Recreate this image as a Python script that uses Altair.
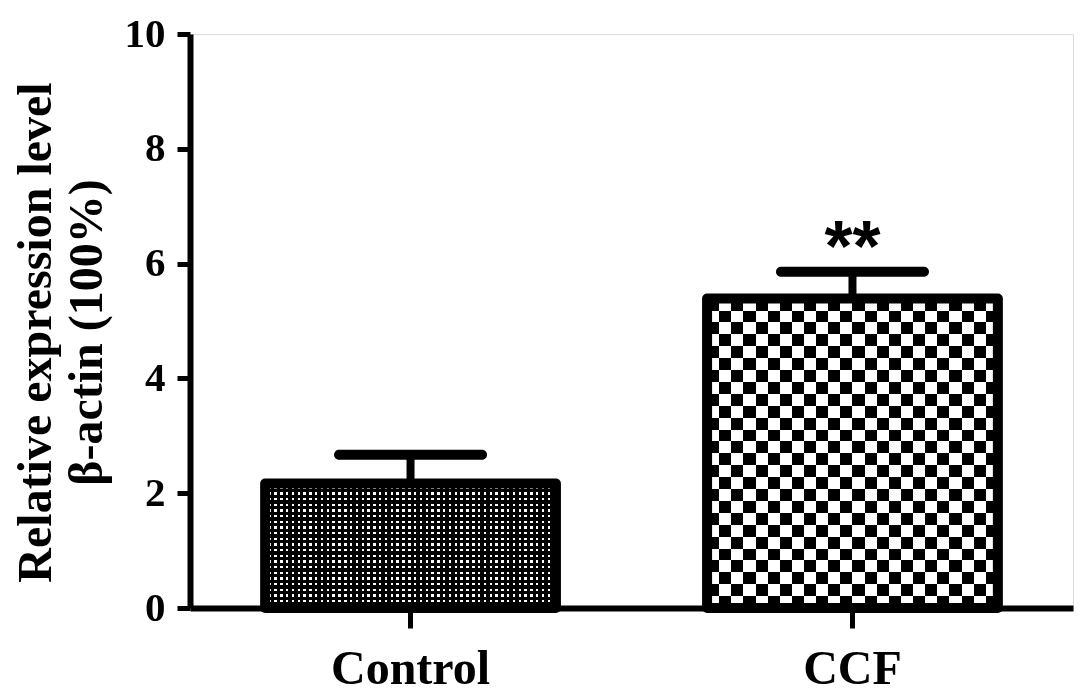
import altair as alt
import pandas as pd

# ---- data ----
groups = ["Control", "CCF"]
means = [2.17, 5.39]
sems = [0.50, 0.47]
stars = ["", "**"]
y_ticks = [0, 2, 4, 6, 8, 10]

df = pd.DataFrame({"group": groups, "mean": means, "sem": sems, "star": stars})

FONT = "Liberation Serif"


def stripes(periods, white_frac, vertical):
    """Hard-stop black/white stripe gradient (texture style only)."""
    stops = []
    for i in range(periods):
        a = round(i / periods, 5)
        m = round((i + 1 - white_frac) / periods, 5)
        b = round((i + 1) / periods, 5)
        stops += [
            {"offset": a, "color": "black"},
            {"offset": m, "color": "black"},
            {"offset": m, "color": "white"},
            {"offset": b, "color": "white"},
        ]
    g = {"gradient": "linear", "x1": 0, "y1": 0, "stops": stops}
    if vertical:
        g.update({"x2": 1, "y2": 0})
    else:
        g.update({"x2": 0, "y2": 1})
    return g


base = alt.Chart(df).encode(
    x=alt.X(
        "group:N",
        sort=groups,
        scale=alt.Scale(paddingInner=0.342, paddingOuter=0.17),
        axis=alt.Axis(
            title=None,
            labelAngle=0,
            labelFont=FONT,
            labelFontSize=48,
            labelFontWeight="bold",
            labelColor="black",
            labelPadding=17,
            tickSize=20,
            tickWidth=5,
            tickColor="black",
            domainWidth=6,
            domainColor="black",
        ),
    ),
    y=alt.Y(
        "mean:Q",
        scale=alt.Scale(domain=[0, 10], nice=False),
        axis=alt.Axis(
            values=y_ticks,
            format="d",
            title=["Relative expression level", "β-actin (100%)"],
            titleFont=FONT,
            titleFontSize=48,
            titleFontWeight="bold",
            titleColor="black",
            titleLineHeight=51,
            titleX=-130,
            titleY=298,
            labelFont=FONT,
            labelFontSize=41,
            labelFontWeight="bold",
            labelColor="black",
            labelPadding=12,
            tickSize=13,
            tickWidth=5,
            tickColor="black",
            domainWidth=6,
            domainColor="black",
            grid=False,
        ),
    ),
)

# Control: white dot lattice on black (multiply of two stripe layers)
ctrl = base.transform_filter(alt.datum.group == "Control")
ctrl_a = ctrl.mark_bar(fill=stripes(50, 0.42, True))
ctrl_b = ctrl.mark_bar(fill=stripes(22, 0.42, False), blend="multiply")

# CCF: checkerboard (difference of two stripe layers)
ccf = base.transform_filter(alt.datum.group == "CCF")
ccf_a = ccf.mark_bar(fill=stripes(12, 0.5, True))
ccf_b = ccf.mark_bar(fill=stripes(13, 0.5, False), blend="difference")

outline = base.mark_bar(fillOpacity=0, stroke="black", strokeWidth=10, strokeJoin="round")

err = base.transform_calculate(upper="datum.mean + datum.sem")
stem = err.mark_rule(color="black", strokeWidth=8).encode(y="mean:Q", y2="upper:Q")
cap = err.mark_tick(color="black", size=153, thickness=10, cornerRadius=5, opacity=1).encode(
    y="upper:Q"
)
star_text = err.mark_text(
    font="Liberation Sans",
    fontSize=72,
    fontWeight="bold",
    baseline="middle",
    dy=-23,
    color="black",
).encode(y="upper:Q", text="star:N")

chart = (
    alt.layer(ctrl_a, ctrl_b, ccf_a, ccf_b, outline, stem, cap, star_text)
    .properties(
        width=883,
        height=574,
        padding={"left": 182, "top": 26, "right": 4, "bottom": 88},
        autosize=alt.AutoSizeParams(type="none"),
    )
    .configure_view(stroke=None)
    .configure(background="white")
)

chart.save("out.html", embed_options={"renderer": "svg", "actions": False})
